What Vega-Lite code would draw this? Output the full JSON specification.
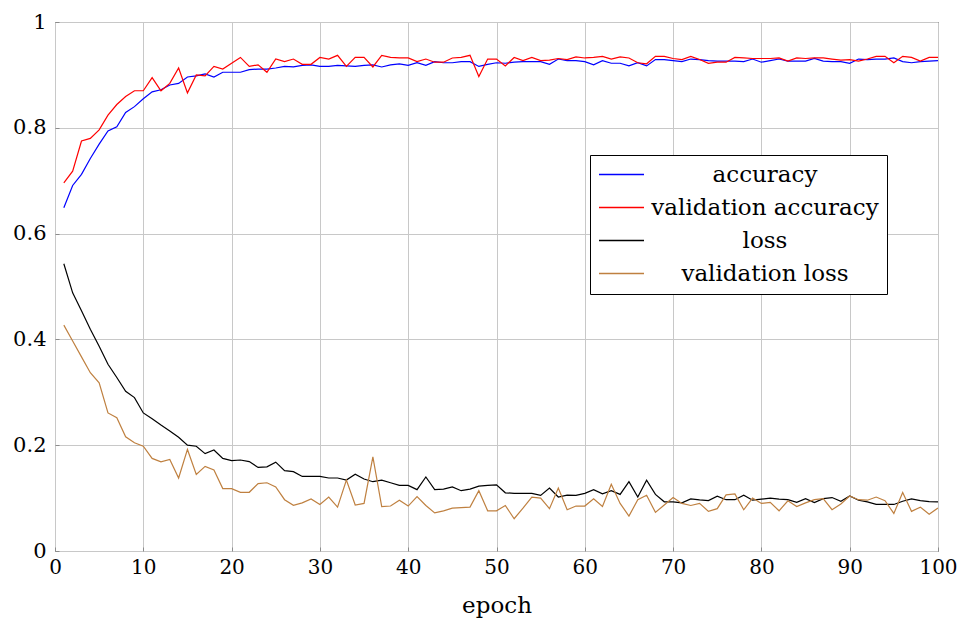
{
  "$schema": "https://vega.github.io/schema/vega-lite/v6.json",
  "width": 883,
  "height": 529,
  "autosize": "none",
  "padding": {"left": 55, "top": 22, "right": 19, "bottom": 70},
  "background": "white",
  "data": {"values": [
    {"epoch":1,"accuracy":0.649,"validation accuracy":0.696,"loss":0.543,"validation loss":0.427},
    {"epoch":2,"accuracy":0.691,"validation accuracy":0.718,"loss":0.488,"validation loss":0.397},
    {"epoch":3,"accuracy":0.712,"validation accuracy":0.775,"loss":0.454,"validation loss":0.367},
    {"epoch":4,"accuracy":0.742,"validation accuracy":0.780,"loss":0.419,"validation loss":0.337},
    {"epoch":5,"accuracy":0.769,"validation accuracy":0.796,"loss":0.387,"validation loss":0.318},
    {"epoch":6,"accuracy":0.794,"validation accuracy":0.824,"loss":0.353,"validation loss":0.261},
    {"epoch":7,"accuracy":0.802,"validation accuracy":0.844,"loss":0.328,"validation loss":0.252},
    {"epoch":8,"accuracy":0.829,"validation accuracy":0.859,"loss":0.302,"validation loss":0.216},
    {"epoch":9,"accuracy":0.840,"validation accuracy":0.870,"loss":0.290,"validation loss":0.2045},
    {"epoch":10,"accuracy":0.855,"validation accuracy":0.870,"loss":0.261,"validation loss":0.198},
    {"epoch":11,"accuracy":0.868,"validation accuracy":0.895,"loss":0.250,"validation loss":0.175},
    {"epoch":12,"accuracy":0.872,"validation accuracy":0.870,"loss":0.238,"validation loss":0.1685},
    {"epoch":13,"accuracy":0.881,"validation accuracy":0.884,"loss":0.227,"validation loss":0.173},
    {"epoch":14,"accuracy":0.884,"validation accuracy":0.913,"loss":0.215,"validation loss":0.138},
    {"epoch":15,"accuracy":0.896,"validation accuracy":0.866,"loss":0.200,"validation loss":0.192},
    {"epoch":16,"accuracy":0.898,"validation accuracy":0.900,"loss":0.198,"validation loss":0.1445},
    {"epoch":17,"accuracy":0.902,"validation accuracy":0.898,"loss":0.184,"validation loss":0.160},
    {"epoch":18,"accuracy":0.896,"validation accuracy":0.916,"loss":0.191,"validation loss":0.153},
    {"epoch":19,"accuracy":0.905,"validation accuracy":0.911,"loss":0.175,"validation loss":0.118},
    {"epoch":20,"accuracy":0.905,"validation accuracy":0.922,"loss":0.171,"validation loss":0.118},
    {"epoch":21,"accuracy":0.905,"validation accuracy":0.933,"loss":0.172,"validation loss":0.111},
    {"epoch":22,"accuracy":0.910,"validation accuracy":0.916,"loss":0.169,"validation loss":0.111},
    {"epoch":23,"accuracy":0.911,"validation accuracy":0.919,"loss":0.158,"validation loss":0.1275},
    {"epoch":24,"accuracy":0.911,"validation accuracy":0.905,"loss":0.159,"validation loss":0.129},
    {"epoch":25,"accuracy":0.913,"validation accuracy":0.930,"loss":0.168,"validation loss":0.121},
    {"epoch":26,"accuracy":0.916,"validation accuracy":0.925,"loss":0.152,"validation loss":0.097},
    {"epoch":27,"accuracy":0.915,"validation accuracy":0.930,"loss":0.150,"validation loss":0.0865},
    {"epoch":28,"accuracy":0.918,"validation accuracy":0.920,"loss":0.141,"validation loss":0.091},
    {"epoch":29,"accuracy":0.919,"validation accuracy":0.920,"loss":0.141,"validation loss":0.0985},
    {"epoch":30,"accuracy":0.916,"validation accuracy":0.933,"loss":0.141,"validation loss":0.088},
    {"epoch":31,"accuracy":0.916,"validation accuracy":0.930,"loss":0.138,"validation loss":0.102},
    {"epoch":32,"accuracy":0.918,"validation accuracy":0.937,"loss":0.138,"validation loss":0.083},
    {"epoch":33,"accuracy":0.917,"validation accuracy":0.916,"loss":0.134,"validation loss":0.134},
    {"epoch":34,"accuracy":0.916,"validation accuracy":0.933,"loss":0.145,"validation loss":0.087},
    {"epoch":35,"accuracy":0.918,"validation accuracy":0.933,"loss":0.136,"validation loss":0.090},
    {"epoch":36,"accuracy":0.919,"validation accuracy":0.915,"loss":0.131,"validation loss":0.178},
    {"epoch":37,"accuracy":0.915,"validation accuracy":0.937,"loss":0.134,"validation loss":0.084},
    {"epoch":38,"accuracy":0.919,"validation accuracy":0.933,"loss":0.129,"validation loss":0.085},
    {"epoch":39,"accuracy":0.921,"validation accuracy":0.932,"loss":0.124,"validation loss":0.096},
    {"epoch":40,"accuracy":0.918,"validation accuracy":0.932,"loss":0.124,"validation loss":0.085},
    {"epoch":41,"accuracy":0.923,"validation accuracy":0.925,"loss":0.116,"validation loss":0.103},
    {"epoch":42,"accuracy":0.918,"validation accuracy":0.930,"loss":0.140,"validation loss":0.086},
    {"epoch":43,"accuracy":0.925,"validation accuracy":0.924,"loss":0.116,"validation loss":0.072},
    {"epoch":44,"accuracy":0.923,"validation accuracy":0.924,"loss":0.117,"validation loss":0.076},
    {"epoch":45,"accuracy":0.923,"validation accuracy":0.932,"loss":0.121,"validation loss":0.081},
    {"epoch":46,"accuracy":0.925,"validation accuracy":0.933,"loss":0.114,"validation loss":0.082},
    {"epoch":47,"accuracy":0.925,"validation accuracy":0.937,"loss":0.117,"validation loss":0.083},
    {"epoch":48,"accuracy":0.916,"validation accuracy":0.897,"loss":0.1225,"validation loss":0.114},
    {"epoch":49,"accuracy":0.920,"validation accuracy":0.930,"loss":0.124,"validation loss":0.076},
    {"epoch":50,"accuracy":0.923,"validation accuracy":0.930,"loss":0.125,"validation loss":0.076},
    {"epoch":51,"accuracy":0.922,"validation accuracy":0.917,"loss":0.110,"validation loss":0.086},
    {"epoch":52,"accuracy":0.924,"validation accuracy":0.933,"loss":0.109,"validation loss":0.061},
    {"epoch":53,"accuracy":0.925,"validation accuracy":0.927,"loss":0.109,"validation loss":0.081},
    {"epoch":54,"accuracy":0.925,"validation accuracy":0.933,"loss":0.109,"validation loss":0.102},
    {"epoch":55,"accuracy":0.925,"validation accuracy":0.927,"loss":0.105,"validation loss":0.100},
    {"epoch":56,"accuracy":0.920,"validation accuracy":0.928,"loss":0.119,"validation loss":0.080},
    {"epoch":57,"accuracy":0.930,"validation accuracy":0.931,"loss":0.102,"validation loss":0.119},
    {"epoch":58,"accuracy":0.927,"validation accuracy":0.929,"loss":0.1055,"validation loss":0.078},
    {"epoch":59,"accuracy":0.927,"validation accuracy":0.934,"loss":0.105,"validation loss":0.085},
    {"epoch":60,"accuracy":0.925,"validation accuracy":0.932,"loss":0.109,"validation loss":0.085},
    {"epoch":61,"accuracy":0.919,"validation accuracy":0.933,"loss":0.116,"validation loss":0.0985},
    {"epoch":62,"accuracy":0.927,"validation accuracy":0.935,"loss":0.108,"validation loss":0.084},
    {"epoch":63,"accuracy":0.922,"validation accuracy":0.930,"loss":0.114,"validation loss":0.126},
    {"epoch":64,"accuracy":0.922,"validation accuracy":0.934,"loss":0.107,"validation loss":0.090},
    {"epoch":65,"accuracy":0.917,"validation accuracy":0.932,"loss":0.131,"validation loss":0.066},
    {"epoch":66,"accuracy":0.923,"validation accuracy":0.923,"loss":0.102,"validation loss":0.097},
    {"epoch":67,"accuracy":0.917,"validation accuracy":0.921,"loss":0.134,"validation loss":0.1055},
    {"epoch":68,"accuracy":0.929,"validation accuracy":0.935,"loss":0.107,"validation loss":0.073},
    {"epoch":69,"accuracy":0.929,"validation accuracy":0.935,"loss":0.093,"validation loss":0.087},
    {"epoch":70,"accuracy":0.927,"validation accuracy":0.931,"loss":0.093,"validation loss":0.101},
    {"epoch":71,"accuracy":0.925,"validation accuracy":0.929,"loss":0.091,"validation loss":0.090},
    {"epoch":72,"accuracy":0.930,"validation accuracy":0.935,"loss":0.0985,"validation loss":0.086},
    {"epoch":73,"accuracy":0.929,"validation accuracy":0.929,"loss":0.0966,"validation loss":0.090},
    {"epoch":74,"accuracy":0.927,"validation accuracy":0.922,"loss":0.0954,"validation loss":0.075},
    {"epoch":75,"accuracy":0.926,"validation accuracy":0.924,"loss":0.1036,"validation loss":0.080},
    {"epoch":76,"accuracy":0.926,"validation accuracy":0.924,"loss":0.097,"validation loss":0.106},
    {"epoch":77,"accuracy":0.926,"validation accuracy":0.933,"loss":0.097,"validation loss":0.108},
    {"epoch":78,"accuracy":0.925,"validation accuracy":0.932,"loss":0.1055,"validation loss":0.078},
    {"epoch":79,"accuracy":0.930,"validation accuracy":0.931,"loss":0.096,"validation loss":0.100},
    {"epoch":80,"accuracy":0.924,"validation accuracy":0.931,"loss":0.098,"validation loss":0.090},
    {"epoch":81,"accuracy":0.927,"validation accuracy":0.931,"loss":0.100,"validation loss":0.092},
    {"epoch":82,"accuracy":0.930,"validation accuracy":0.932,"loss":0.098,"validation loss":0.076},
    {"epoch":83,"accuracy":0.926,"validation accuracy":0.926,"loss":0.097,"validation loss":0.095},
    {"epoch":84,"accuracy":0.926,"validation accuracy":0.932,"loss":0.092,"validation loss":0.084},
    {"epoch":85,"accuracy":0.926,"validation accuracy":0.931,"loss":0.099,"validation loss":0.091},
    {"epoch":86,"accuracy":0.931,"validation accuracy":0.932,"loss":0.0916,"validation loss":0.097},
    {"epoch":87,"accuracy":0.926,"validation accuracy":0.932,"loss":0.099,"validation loss":0.099},
    {"epoch":88,"accuracy":0.925,"validation accuracy":0.930,"loss":0.101,"validation loss":0.078},
    {"epoch":89,"accuracy":0.925,"validation accuracy":0.928,"loss":0.094,"validation loss":0.089},
    {"epoch":90,"accuracy":0.922,"validation accuracy":0.929,"loss":0.104,"validation loss":0.104},
    {"epoch":91,"accuracy":0.930,"validation accuracy":0.926,"loss":0.096,"validation loss":0.097},
    {"epoch":92,"accuracy":0.929,"validation accuracy":0.930,"loss":0.093,"validation loss":0.096},
    {"epoch":93,"accuracy":0.930,"validation accuracy":0.935,"loss":0.088,"validation loss":0.102},
    {"epoch":94,"accuracy":0.930,"validation accuracy":0.935,"loss":0.088,"validation loss":0.095},
    {"epoch":95,"accuracy":0.932,"validation accuracy":0.923,"loss":0.088,"validation loss":0.071},
    {"epoch":96,"accuracy":0.925,"validation accuracy":0.935,"loss":0.094,"validation loss":0.1105},
    {"epoch":97,"accuracy":0.923,"validation accuracy":0.933,"loss":0.0985,"validation loss":0.075},
    {"epoch":98,"accuracy":0.925,"validation accuracy":0.926,"loss":0.0954,"validation loss":0.083},
    {"epoch":99,"accuracy":0.926,"validation accuracy":0.933,"loss":0.0935,"validation loss":0.0695},
    {"epoch":100,"accuracy":0.927,"validation accuracy":0.933,"loss":0.093,"validation loss":0.0815}
  ]},
  "transform": [
    {"fold": ["accuracy", "validation accuracy", "loss", "validation loss"], "as": ["series", "value"]}
  ],
  "mark": {"type": "line", "strokeWidth": 1.2, "clip": true},
  "encoding": {
    "x": {
      "field": "epoch", "type": "quantitative",
      "scale": {"domain": [0, 100], "nice": false},
      "axis": {"title": "epoch", "values": [0,10,20,30,40,50,60,70,80,90,100], "format": "d"}
    },
    "y": {
      "field": "value", "type": "quantitative",
      "scale": {"domain": [0, 1], "nice": false},
      "axis": {"title": null, "values": [0,0.2,0.4,0.6,0.8,1], "format": ".1~f"}
    },
    "color": {
      "field": "series", "type": "nominal",
      "scale": {"domain": ["accuracy", "validation accuracy", "loss", "validation loss"], "range": ["#0000ff", "#ff0000", "#000000", "#bf8040"]},
      "legend": {"title": null}
    },
    "order": {"field": "epoch", "type": "quantitative"}
  },
  "config": {
    "font": "DejaVu Serif",
    "view": {"stroke": "#000000", "strokeWidth": 1},
    "axis": {
      "domain": false,
      "grid": true,
      "gridColor": "#c8c8c8",
      "gridWidth": 1,
      "ticks": true,
      "tickSize": -4,
      "tickColor": "#8c8c8c",
      "labelFlush": false,
      "labelOverlap": false,
      "labelFont": "DejaVu Serif",
      "labelColor": "#000000",
      "titleFont": "DejaVu Serif",
      "titleFontSize": 23,
      "titleFontWeight": "normal",
      "titleColor": "#000000"
    },
    "axisX": {"labelFontSize": 20, "labelPadding": 10, "titlePadding": 17},
    "axisY": {"labelFontSize": 21, "labelPadding": 13},
    "legend": {
      "orient": "none",
      "legendX": 535,
      "legendY": 133,
      "symbolType": "stroke",
      "symbolSize": 2025,
      "symbolStrokeWidth": 1.4,
      "labelFont": "DejaVu Serif",
      "labelFontSize": 23,
      "labelColor": "#000000",
      "labelAlign": "center",
      "labelOffset": 120,
      "labelLimit": 400,
      "strokeColor": "#000000",
      "fillColor": "#ffffff",
      "padding": 8,
      "clipHeight": 23,
      "rowPadding": 9
    }
  }
}
